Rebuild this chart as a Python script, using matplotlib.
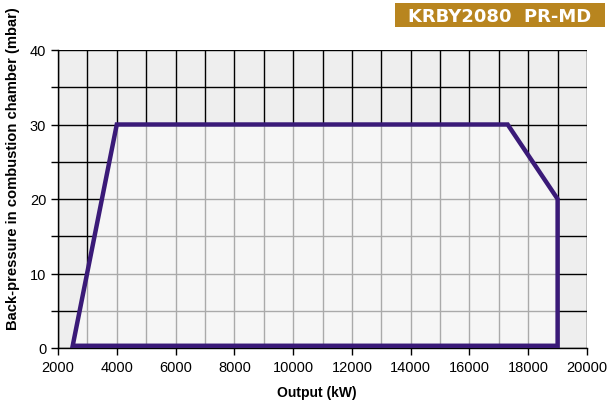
import matplotlib.pyplot as plt
from matplotlib.patches import Polygon, Rectangle
import numpy as np

plt.rcParams['font.family'] = ['Liberation Sans', 'DejaVu Sans']

# working field of the burner
output_kw = [2500, 4000, 17300, 19000, 19000]
pressure_mbar = [0.3, 30, 30, 20, 0.3]

x_major = [2000, 4000, 6000, 8000, 10000, 12000, 14000, 16000, 18000, 20000]
y_major = [0, 10, 20, 30, 40]
title = "KRBY2080  PR-MD"

W, H = 610, 406
fig = plt.figure(figsize=(W / 100, H / 100), dpi=100)
ax = fig.add_axes([58 / W, 57 / H, 529 / W, 298 / H])
ax.set_xlim(2000, 20000)
ax.set_ylim(0, 40)
ax.set_facecolor("#eeeeee")

xs = np.arange(2000, 20001, 1000)
ys = np.arange(0, 41, 5)

# black grid everywhere
for x in xs:
    ax.axvline(x, color="black", lw=1.0, zorder=1)
for y in ys:
    ax.axhline(y, color="black", lw=1.0, zorder=1)

# inner field, lighter with grey grid
pts = list(zip(output_kw, pressure_mbar))
fill = Polygon(pts, closed=True, facecolor="#f6f6f6", edgecolor="none", zorder=2)
ax.add_patch(fill)
clip = Polygon(pts, closed=True, facecolor="none", edgecolor="none",
               transform=ax.transData)
for x in xs:
    ln = ax.axvline(x, color="#aaaaaa", lw=1.0, zorder=3)
    ln.set_clip_path(clip)
for y in ys:
    ln = ax.axhline(y, color="#aaaaaa", lw=1.0, zorder=3)
    ln.set_clip_path(clip)

edge = Polygon(pts, closed=True, facecolor="none", edgecolor="#3a1a78",
               lw=3.2, joinstyle="miter", zorder=4)
ax.add_patch(edge)

for s in ["top", "right"]:
    ax.spines[s].set_visible(False)
ax.spines["left"].set_linewidth(1.0)
ax.spines["bottom"].set_linewidth(1.0)

ax.set_xticks(x_major)
ax.set_yticks(y_major)
ax.set_yticks(ys, minor=True)
ax.tick_params(axis="both", which="both", direction="out", labelsize=10.5,
               length=5, width=1.0, colors="black")
ax.tick_params(axis="y", which="minor", length=5)

ax.set_xlabel("Output (kW)", fontsize=10, fontweight="bold")
ax.xaxis.set_label_coords(0.49, -0.125)
ax.set_ylabel("Back-pressure in combustion chamber (mbar)", fontsize=10.6,
              fontweight="bold")
ax.yaxis.set_label_coords(-0.072, 0.604)

# model badge
fig.patches.append(Rectangle((395 / W, 1 - 28 / H), 210 / W, 24 / H,
                             transform=fig.transFigure, facecolor="#b8851f",
                             edgecolor="none"))
fig.text(500 / W, 1 - 16.5 / H, title, ha="center", va="center",
         color="white", fontsize=13, fontweight="bold",
         family=["DejaVu Sans"])

fig.savefig("out.png", dpi=100)
